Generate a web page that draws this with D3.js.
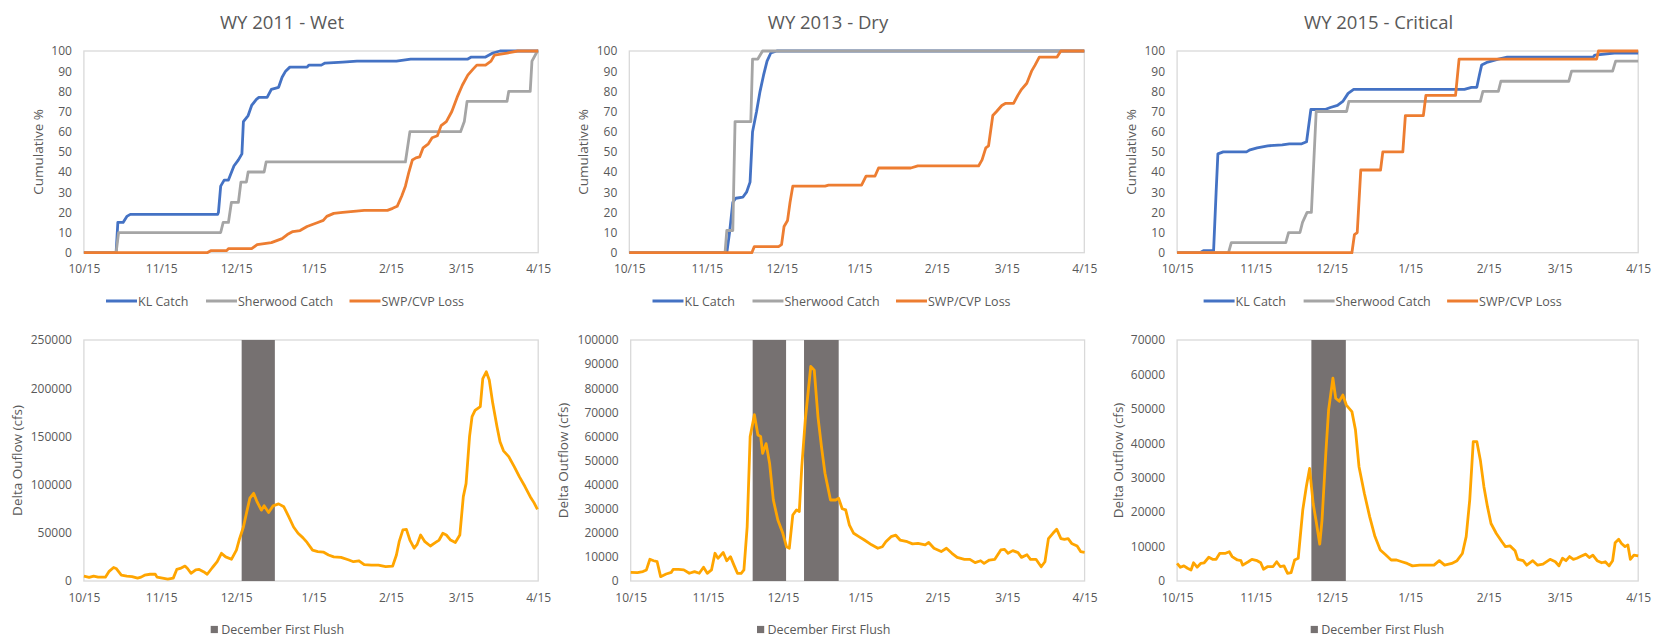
<!DOCTYPE html>
<html><head><meta charset="utf-8">
<script src="https://cdn.jsdelivr.net/npm/d3@7"></script>
<style>body{margin:0;background:#fff;} svg{display:block;font-family:"Open Sans",sans-serif;}</style>
</head><body><svg id="c" width="1661" height="640"></svg>
<script>
const tickLabels = ["10/15","11/15","12/15","1/15","2/15","3/15","4/15"];
const titles = ["WY 2011 - Wet","WY 2013 - Dry","WY 2015 - Critical"];
const startYears = [2010, 2012, 2014];
const seriesNames = ["KL Catch","Sherwood Catch","SWP/CVP Loss"];
const seriesColors = ["#4472C4","#A5A5A5","#ED7D31"];
const cumTicks = [0,10,20,30,40,50,60,70,80,90,100];
const flowMax = [250000,100000,70000];
const flowStep = [50000,10000,10000];
const flowTitles = ["Delta Ouflow (cfs)","Delta Outflow (cfs)","Delta Outflow (cfs)"];
const flushName = "December First Flush";

// [days since 10/15, cumulative %]
const kl2011 = [[0,0],[12.9,0],[13.6,15],[15.7,15],[17.2,18],[18.6,19],[53.6,19],[53.9,20],[54.8,33],[56.2,36],[57.9,36],[60.1,43],[61.9,46],[63.3,49],[63.9,65],[65.8,68],[67.2,73],[69.1,76],[70.1,77],[73.4,77],[75.1,81],[78,82],[79.4,87],[80.8,90],[82.5,92],[89.4,92],[90.1,93],[95.1,93],[96.6,94],[103.7,94.5],[109.4,95],[125.2,95],[130.9,96],[153.8,96],[155.2,97],[160.9,97],[163.8,99],[166.7,100],[182,100]];
const sher2011 = [[0,0],[12.9,0],[13.9,10],[54.8,10],[55.8,15],[57.9,15],[59.1,25],[61.9,25],[62.9,35],[65.1,35],[65.8,40],[72.2,40],[73,45],[128.8,45],[130.6,60],[150.9,60],[152.4,65],[153.5,75],[169.5,75],[170.2,80],[178.8,80],[179.5,95],[181.7,100],[182,100]];
const swp2011 = [[0,0],[49.4,0],[50.8,1],[57.2,1],[57.9,2],[67.2,2],[69.4,4],[75.1,5],[79.4,7],[81.5,9],[83.7,10.5],[86.6,11],[89.4,13],[93.7,15],[95.9,16],[97.3,18],[100.1,19.5],[103.7,20],[108,20.5],[112.3,21],[121.6,21],[123.7,22],[125.5,23],[127.3,28],[128.8,33],[130.2,40],[131.6,46],[133,47],[134.5,47.5],[135.9,52],[138,54],[139.5,57],[141.6,58],[143.1,63],[145.2,65],[147.4,70],[149.5,77],[151.6,83],[153.8,88],[155.9,91],[157.4,93],[160.9,93],[163.1,95],[164.5,98],[169.5,99],[173.8,100],[182,100]];

const kl2013 = [[0,0],[39,0],[40.1,10],[41.4,25],[42.6,27],[45.4,27.5],[46.9,30],[48.3,35],[49.3,60],[50.9,70],[52.3,80],[53.7,88],[55.1,95],[56.6,99],[59,100],[182,100]];
const sher2013 = [[0,0],[38.3,0],[39,11],[41.4,11],[42.3,65],[48.6,65],[49.3,96],[51.4,96],[53.3,100],[182,100]];
const swp2013 = [[0,0],[49,0],[50,3],[59.7,3],[60.9,4],[61.9,13],[63.3,16],[64.3,25],[65.4,33],[78.3,33],[79.7,33.5],[92.9,33.5],[94.7,38],[98.3,38],[99.7,42],[112.6,42],[115.4,43],[139.7,43],[141.1,46],[142.6,52],[143.7,53],[145.4,68],[146.9,70],[149,73],[150.4,74],[153.7,74],[155.4,78],[156.9,81],[159,84],[160.9,90],[162.3,93],[164,97],[171.1,97],[172.6,100],[182,100]];

const kl2015 = [[0,0],[9,0],[10.4,1],[14.4,1],[15.4,30],[16.1,49],[18.2,50],[27.4,50],[28.8,51],[31.6,52],[35.8,53],[41.5,53.5],[44.3,54],[49.2,54],[51.1,55],[52.8,71],[58.4,71],[60.5,72],[63.3,73],[65.4,75],[67.5,79],[69.7,81],[113.4,81],[116.2,82],[118.3,82],[119.3,88],[120.2,93],[122.6,94.5],[126.8,96],[130.3,97],[164.2,97],[164.9,98],[172.6,99],[182,99]];
const sher2015 = [[0,0],[20.3,0],[21.4,5],[42.9,5],[44,10],[48.5,10],[49.5,15],[51.3,20],[53,20],[54.9,70],[66.9,70],[67.8,75],[119.7,75],[120.7,80],[126.8,80],[127.8,85],[154.6,85],[155.7,90],[171.9,90],[173.1,95],[182,95]];
const swp2015 = [[0,0],[69,0],[70,9],[71.1,10],[72.5,41],[80.3,41],[81.2,50],[89.1,50],[90.1,68],[97.2,68],[98.2,78],[109.9,78],[111.3,96],[165.6,96],[166.3,100],[182,100]];

// [days since 10/15, delta outflow cfs]
const flow2011 = [[0,5000],[2.1,3800],[3.9,5000],[5.7,4000],[8.6,4000],[10,9700],[11.9,14000],[12.9,13000],[15,6000],[17.2,5000],[19.3,4500],[21.5,3000],[22.9,4000],[24.3,6000],[26.5,7000],[28.6,7000],[29.3,4000],[31.5,3000],[33.6,2000],[35.8,3000],[37.2,12000],[38.6,13000],[40.5,15500],[41.5,13000],[42.9,8000],[44.8,11500],[46.2,12000],[47.9,9700],[49.4,7000],[51.5,14000],[53.4,20000],[55.1,28700],[56.8,25000],[59.1,22500],[61.1,32000],[62.2,42500],[63.9,56000],[65.4,73500],[66.5,86000],[68,91000],[69.4,82000],[71.1,73500],[72.2,78000],[74,71000],[75.8,78000],[78,80000],[80.1,77000],[82,67000],[84,56000],[85.8,49500],[87.7,45000],[89.4,40000],[91.6,32000],[93.7,30500],[95.9,30000],[98,27000],[100.1,25000],[103,24500],[105.9,22000],[108,20000],[110.2,21000],[112.3,17000],[115.2,16500],[118,16500],[120.9,15000],[123.7,15500],[125.2,27000],[126.3,40800],[127.8,53000],[129.2,53500],[130.6,42500],[132.3,34000],[133.5,38000],[134.9,47700],[136.6,40800],[138.8,36300],[140.9,40000],[142.3,42500],[143.8,49500],[145.2,47700],[146.9,42500],[148.8,40000],[150.6,47700],[152,87500],[153.1,101000],[154.5,150000],[155.5,170500],[156.7,177000],[158.8,181000],[159.8,210000],[161.2,217000],[162.4,208500],[163.8,184300],[165.5,160000],[166.7,144500],[168.1,135000],[170.2,129000],[172.4,118600],[174.5,108000],[176.7,98000],[178.8,87500],[180.3,81300],[181.7,74400]];
const flow2013 = [[0,3600],[2.7,3500],[4.9,3900],[6.3,4600],[7.7,9000],[9.2,8400],[10.6,8000],[12,1800],[14.2,2900],[16.3,3600],[17,4800],[19.2,4800],[21.3,4600],[23.5,3200],[25.6,3900],[27.5,3200],[29.2,5700],[30.7,3200],[32.4,4600],[33.8,11500],[35,9400],[37.1,11800],[38.5,8400],[40,10100],[41.4,6600],[42.8,3200],[44.3,3200],[45.4,4600],[46.7,22500],[47.9,60000],[49.6,69000],[51,60600],[52.1,60000],[52.9,53000],[54.3,57000],[55.7,48800],[57.2,33600],[59,25300],[61,19800],[62.5,14200],[63.6,13600],[65,27400],[66.5,29500],[67.6,28800],[68.6,47400],[70,66800],[72.2,89000],[73.6,87500],[75.1,68000],[76.5,55700],[77.9,44700],[80.1,33600],[82.2,33600],[83.4,34300],[84.8,30000],[86.2,29500],[87.7,23200],[89.4,19800],[91.5,18400],[93.7,17000],[96.6,15000],[99.1,13600],[100.9,14200],[102.3,16300],[104.4,18400],[106.3,19000],[108,17000],[110.9,16300],[113,15400],[115.2,15600],[118.1,15000],[119.5,16000],[121.6,13600],[124.5,12200],[126.6,13600],[128.8,11500],[130.9,9800],[133.8,9000],[136,9000],[138.1,7600],[140.3,8400],[141.7,7300],[143.8,8700],[146,9000],[148.4,12900],[149.9,13100],[151.3,11500],[153.2,12600],[155.3,11800],[156.7,9800],[158.9,10900],[160.3,9000],[162.5,9000],[164.6,5900],[166.1,8000],[167.5,17600],[169.3,19800],[170.8,21500],[172.5,17600],[173.9,17300],[175.4,17600],[176.8,15600],[179,14500],[180.4,12200],[182,11900]];
const flow2015 = [[0,5100],[1.3,4000],[2.7,4400],[4.1,3700],[5.5,3200],[6.5,5300],[7.9,4000],[9.3,5100],[10.7,5300],[12.5,6900],[14,6300],[15.4,6300],[16.8,8000],[18.9,8000],[20.6,8500],[21.7,7100],[23.8,6100],[25.2,5900],[25.9,4600],[28.1,5600],[29.5,6300],[31.6,5900],[33,5300],[34.1,3400],[35.8,4200],[37.9,4200],[39.3,5600],[40.7,4200],[42.2,4400],[43.6,2200],[45,2400],[46.4,6100],[47.8,6600],[49.6,20600],[51,27400],[52.3,32700],[53.7,22500],[54.8,17700],[56.3,10700],[57.2,17700],[58.7,37100],[59.8,49700],[61.5,58900],[62.6,53100],[64,52200],[65.4,54000],[66.8,51100],[69,49200],[70.4,43900],[71.8,33200],[73.9,25500],[76,18700],[78.1,12900],[80.2,9000],[82.3,7600],[84.5,6100],[86.6,6100],[88.7,5600],[90.8,5100],[92.9,4400],[95.7,4600],[98.6,4600],[101.4,4600],[103.5,5900],[105.6,4600],[108.4,5100],[110.5,5900],[112.6,8000],[114.1,12900],[115.5,23500],[116.9,40500],[118.3,40500],[119.7,35100],[121.1,27400],[122.5,21600],[123.9,16700],[126,13800],[128.2,11400],[129.6,10000],[131.4,10200],[133.4,8800],[134.5,6300],[136.6,5900],[138,4600],[140.4,5900],[142.3,4600],[144.4,4900],[147.2,6300],[149.3,5600],[150.7,4400],[152.1,6600],[153.5,5900],[154.9,7100],[156.4,6300],[157.8,6600],[159.2,7100],[161.3,7800],[162.7,6800],[164.1,7500],[165.8,5900],[167.6,5300],[169,5600],[170.5,4400],[171.9,5900],[172.9,11100],[174.3,12100],[175.4,10900],[176.8,10000],[177.9,10500],[178.9,6300],[180.3,7500],[182,7300]];

// December first flush periods [start day, end day]
const flush2011 = [[63.2,76.5]];
const flush2013 = [[48.9,62.3],[69.5,83.4]];
const flush2015 = [[53.0,66.6]];

const cumSeries = [[kl2011,sher2011,swp2011],[kl2013,sher2013,swp2013],[kl2015,sher2015,swp2015]];
const flows = [flow2011, flow2013, flow2015];
const flushes = [flush2011, flush2013, flush2015];

// layout
const topY = [51, 252.7], botY = [340, 581];
const topX = [[83.9,538.2],[629.3,1084.3],[1177.1,1638.2]];
const botX = [[83.9,538.2],[630.7,1084.6],[1177.1,1638.2]];
const titleX = [282, 828, 1378.6];
const topYTitleX = [37.5, 583, 1131.4];
const botYTitleX = [17, 563, 1118];
const topLegendX = [106, 652.5, 1203.6];
const legendOffsets = [0, 100, 243.5];
const botLegendX = [210.7, 757, 1310.7];
const TXT = "#595959", BORDER = "#D9D9D9", FLOW = "#FFA500", FLUSH = "#767171";

const svg = d3.select("#c");
const dayToDate = (y, d) => new Date(Date.UTC(y, 9, 15) + d * 864e5);
const tickDates = y => tickLabels.map(l => { const [m, d] = l.split("/").map(Number); return new Date(Date.UTC(m >= 10 ? y : y + 1, m - 1, d)); });

function styleAxis(g) {
  g.select(".domain").remove();
  g.selectAll("text").attr("font-size", 12).attr("fill", TXT).attr("font-family", '"Open Sans",sans-serif');
}

for (let p = 0; p < 3; p++) {
  const yr = startYears[p];
  const dom = [dayToDate(yr, 0), dayToDate(yr, 182)];
  // ---------- top: cumulative ----------
  {
    const x = d3.scaleUtc().domain(dom).range(topX[p]);
    const y = d3.scaleLinear().domain([0, 100]).range([topY[1], topY[0]]);
    const g = svg.append("g");
    g.append("text").attr("x", titleX[p]).attr("y", 21).attr("dominant-baseline", "central")
      .attr("text-anchor", "middle").attr("font-size", 18.5).attr("fill", TXT).text(titles[p]);
    g.append("rect").attr("x", topX[p][0]).attr("y", topY[0]).attr("width", topX[p][1] - topX[p][0])
      .attr("height", topY[1] - topY[0]).attr("fill", "none").attr("stroke", BORDER).attr("stroke-width", 1.3);
    g.append("g").attr("transform", `translate(0,${topY[1]})`)
      .call(d3.axisBottom(x).tickValues(tickDates(yr)).tickFormat((d, i) => tickLabels[i]).tickSize(0).tickPadding(12))
      .call(styleAxis);
    g.append("g").attr("transform", `translate(${topX[p][0]},0)`)
      .call(d3.axisLeft(y).tickValues(cumTicks).tickSize(0).tickPadding(12))
      .call(styleAxis);
    g.append("text").attr("transform", `translate(${topYTitleX[p]},${(topY[0] + topY[1]) / 2}) rotate(-90)`)
      .attr("text-anchor", "middle").attr("dominant-baseline", "central").attr("font-size", 13.5).attr("fill", TXT)
      .text("Cumulative %");
    const line = d3.line().x(d => x(dayToDate(yr, d[0]))).y(d => y(d[1]));
    cumSeries[p].forEach((s, i) => {
      g.append("path").datum(s).attr("d", line).attr("fill", "none").attr("stroke", seriesColors[i])
        .attr("stroke-width", 2.8).attr("stroke-linejoin", "round");
    });
    seriesNames.forEach((n, i) => {
      const lx = topLegendX[p] + legendOffsets[i];
      g.append("line").attr("x1", lx).attr("x2", lx + 31).attr("y1", 301).attr("y2", 301)
        .attr("stroke", seriesColors[i]).attr("stroke-width", 3);
      g.append("text").attr("x", lx + 32).attr("y", 301).attr("dominant-baseline", "central")
        .attr("font-size", 12.5).attr("fill", TXT).text(n);
    });
  }
  // ---------- bottom: delta outflow ----------
  {
    const x = d3.scaleUtc().domain(dom).range(botX[p]);
    const y = d3.scaleLinear().domain([0, flowMax[p]]).range([botY[1], botY[0]]);
    const g = svg.append("g");
    g.append("rect").attr("x", botX[p][0]).attr("y", botY[0]).attr("width", botX[p][1] - botX[p][0])
      .attr("height", botY[1] - botY[0]).attr("fill", "none").attr("stroke", BORDER).attr("stroke-width", 1.3);
    g.selectAll("rect.flush").data(flushes[p]).join("rect").attr("class", "flush")
      .attr("x", d => x(dayToDate(yr, d[0]))).attr("width", d => x(dayToDate(yr, d[1])) - x(dayToDate(yr, d[0])))
      .attr("y", y(flowMax[p])).attr("height", y(0) - y(flowMax[p])).attr("fill", FLUSH);
    g.append("g").attr("transform", `translate(0,${botY[1]})`)
      .call(d3.axisBottom(x).tickValues(tickDates(yr)).tickFormat((d, i) => tickLabels[i]).tickSize(0).tickPadding(12))
      .call(styleAxis);
    g.append("g").attr("transform", `translate(${botX[p][0]},0)`)
      .call(d3.axisLeft(y).tickValues(d3.range(0, flowMax[p] + 1, flowStep[p])).tickFormat(d3.format("d")).tickSize(0).tickPadding(12))
      .call(styleAxis);
    g.append("text").attr("transform", `translate(${botYTitleX[p]},${(botY[0] + botY[1]) / 2}) rotate(-90)`)
      .attr("text-anchor", "middle").attr("dominant-baseline", "central").attr("font-size", 13.5).attr("fill", TXT)
      .text(flowTitles[p]);
    const line = d3.line().x(d => x(dayToDate(yr, d[0]))).y(d => y(d[1]));
    g.append("path").datum(flows[p]).attr("d", line).attr("fill", "none").attr("stroke", FLOW)
      .attr("stroke-width", 2.8).attr("stroke-linejoin", "round");
    g.append("rect").attr("x", botLegendX[p]).attr("y", 629.5 - 3.6).attr("width", 7.2).attr("height", 7.2).attr("fill", FLUSH);
    g.append("text").attr("x", botLegendX[p] + 10.5).attr("y", 629.5).attr("dominant-baseline", "central")
      .attr("font-size", 12.5).attr("fill", TXT).text(flushName);
  }
}
</script></body></html>
